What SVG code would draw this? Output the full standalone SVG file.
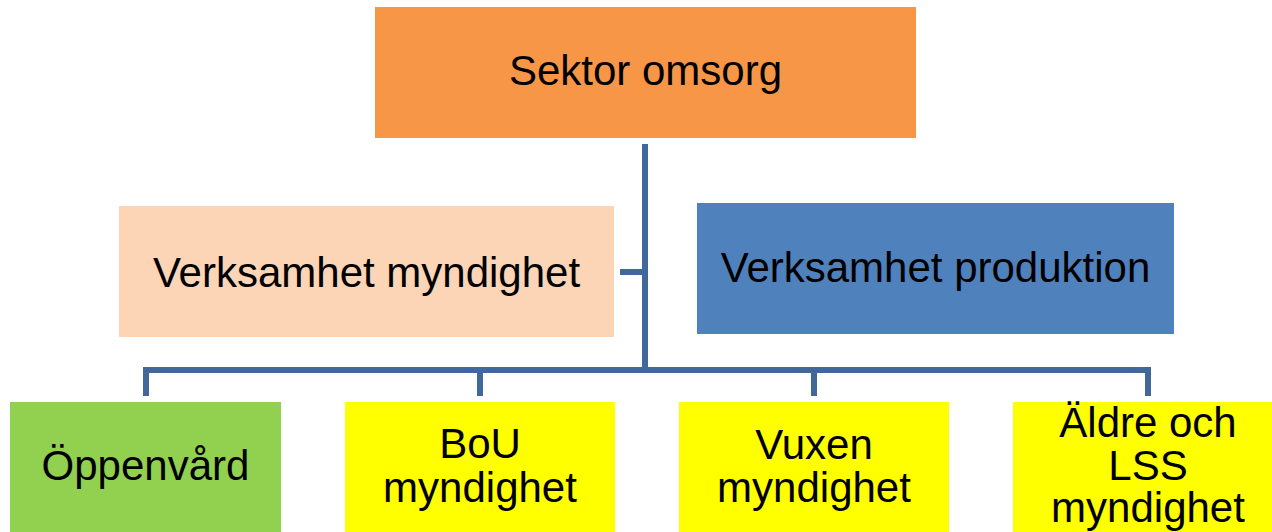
<svg xmlns="http://www.w3.org/2000/svg" width="1272" height="532" viewBox="0 0 1272 532">
<style>
text{font-family:"Liberation Sans",Arial,sans-serif;font-size:42px;fill:#000;text-anchor:middle}
.c{fill:none;stroke:#41689B;stroke-width:6;stroke-linejoin:miter;stroke-linecap:butt}
</style>
<rect width="1272" height="532" fill="#fff"/>
<g id="connectors">
<path class="c" d="M645 144V373"/>
<path class="c" d="M620 272H645"/>
<path class="c" d="M146 396V370H1148V396"/>
<path class="c" d="M480 370V396"/>
<path class="c" d="M814 370V396"/>
</g>
<g id="sektor-omsorg">
<rect x="375" y="7" width="541" height="131" fill="#F79646"/>
<text x="645.5" y="85">Sektor omsorg</text>
</g>
<g id="verksamhet-myndighet">
<rect x="119" y="206" width="495" height="131" fill="#FBD5B5"/>
<text x="366.5" y="287">Verksamhet myndighet</text>
</g>
<g id="verksamhet-produktion">
<rect x="697" y="203" width="477" height="131" fill="#4F81BD"/>
<text x="935.5" y="282">Verksamhet produktion</text>
</g>
<g id="oppenvard">
<rect x="10" y="402" width="271" height="140" fill="#92D050"/>
<text x="145.5" y="480">Öppenvård</text>
</g>
<g id="bou-myndighet">
<rect x="345" y="402" width="270" height="140" fill="#FFFF00"/>
<text x="480" y="458">BoU</text>
<text x="480" y="502">myndighet</text>
</g>
<g id="vuxen-myndighet">
<rect x="679" y="402" width="270" height="140" fill="#FFFF00"/>
<text x="814" y="459">Vuxen</text>
<text x="814" y="502">myndighet</text>
</g>
<g id="aldre-lss-myndighet">
<rect x="1013" y="402" width="270" height="140" fill="#FFFF00"/>
<text x="1148" y="437">Äldre och</text>
<text x="1148" y="480">LSS</text>
<text x="1148" y="522">myndighet</text>
</g>
</svg>
